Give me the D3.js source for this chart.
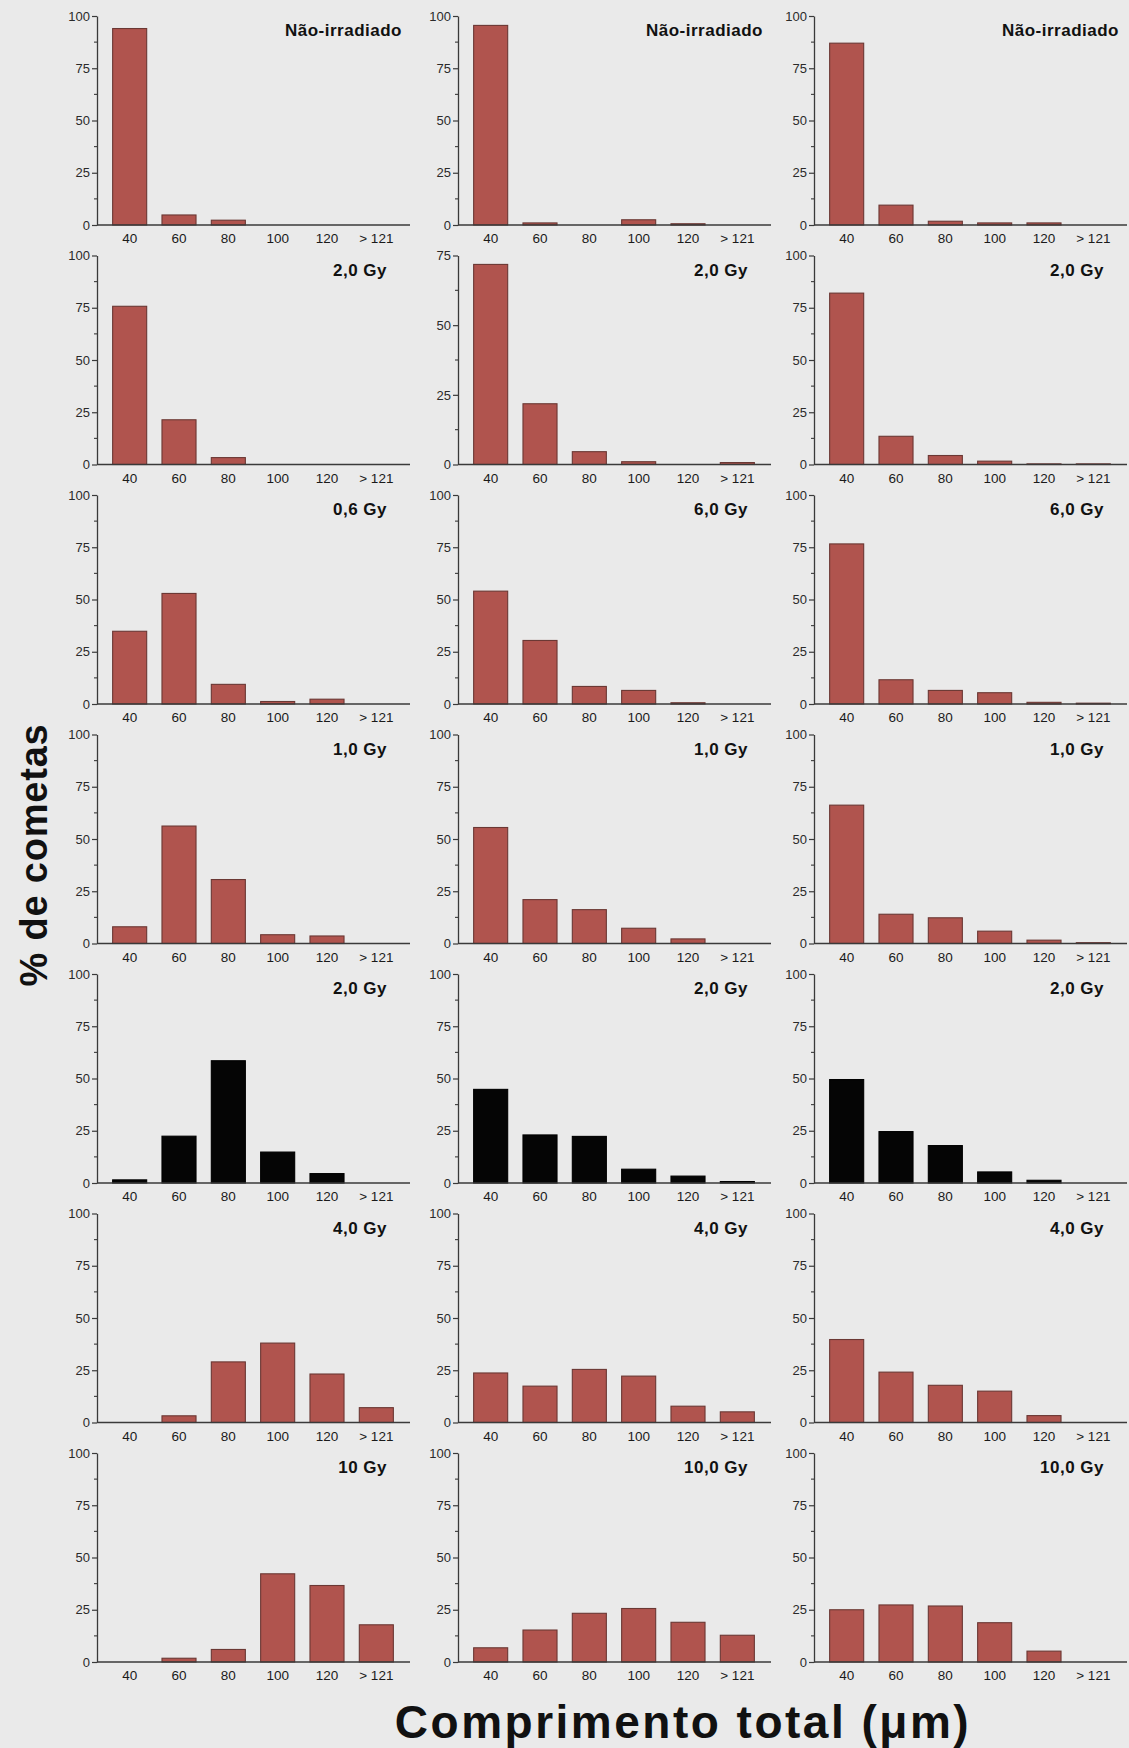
<!DOCTYPE html>
<html>
<head>
<meta charset="utf-8">
<script src="https://cdn.jsdelivr.net/npm/d3@7"></script>
<style>
  html, body { margin: 0; padding: 0; background: #eaeaea; }
  svg { display: block; font-family: "Liberation Sans", Arial, Helvetica, sans-serif; }
</style>
</head>
<body>
<svg id="chart" width="1129" height="1748"></svg>
<script>
// Comet length classes (µm)
const categories = ["40", "60", "80", "100", "120", "> 121"];

// Panel labels, one per row, for each column of panels
const titlesLeft   = ["Não-irradiado", "2,0 Gy", "0,6 Gy", "1,0 Gy", "2,0 Gy", "4,0 Gy", "10 Gy"];
const titlesMiddle = ["Não-irradiado", "2,0 Gy", "6,0 Gy", "1,0 Gy", "2,0 Gy", "4,0 Gy", "10,0 Gy"];
const titlesRight  = ["Não-irradiado", "2,0 Gy", "6,0 Gy", "1,0 Gy", "2,0 Gy", "4,0 Gy", "10,0 Gy"];

// % of comets per length class, one row per panel
const valuesLeft = [
  [94.0, 4.8, 2.3, 0, 0, 0],
  [75.7, 21.4, 3.3, 0, 0, 0],
  [34.8, 52.9, 9.4, 1.2, 2.3, 0],
  [8.0, 56.2, 30.6, 4.2, 3.6, 0],
  [1.5, 22.4, 58.5, 14.8, 4.5, 0],
  [0, 3.2, 29.0, 38.0, 23.2, 7.1],
  [0, 1.8, 6.0, 42.2, 36.6, 17.8]
];
const valuesMiddle = [
  [95.5, 1.0, 0, 2.5, 0.6, 0],
  [71.8, 21.8, 4.6, 1.0, 0, 0.7],
  [54.0, 30.4, 8.4, 6.5, 0.6, 0],
  [55.5, 21.0, 16.2, 7.3, 2.2, 0],
  [44.8, 23.0, 22.3, 6.6, 3.3, 0.7],
  [23.7, 17.4, 25.4, 22.2, 7.8, 5.1],
  [6.8, 15.3, 23.3, 25.6, 19.0, 12.8]
];
const valuesRight = [
  [87.0, 9.5, 1.8, 1.0, 1.0, 0],
  [82.0, 13.5, 4.3, 1.6, 0.3, 0.3],
  [76.6, 11.6, 6.5, 5.4, 0.8, 0.4],
  [66.2, 14.0, 12.3, 5.9, 1.6, 0.4],
  [49.5, 24.6, 17.9, 5.3, 1.3, 0],
  [39.7, 24.1, 17.8, 15.0, 3.3, 0],
  [25.0, 27.3, 26.8, 18.8, 5.2, 0]
];

// Upper limit of each panel's y axis
const yMaxLeft   = [100, 100, 100, 100, 100, 100, 100];
const yMaxMiddle = [100, 75, 100, 100, 100, 100, 100];
const yMaxRight  = [100, 100, 100, 100, 100, 100, 100];

// Y ticks
const majorTicks = [0, 25, 50, 75, 100];
const minorTicks = [12.5, 37.5, 62.5, 87.5];

const columns = [
  { titles: titlesLeft,   values: valuesLeft,   yMax: yMaxLeft },
  { titles: titlesMiddle, values: valuesMiddle, yMax: yMaxMiddle },
  { titles: titlesRight,  values: valuesRight,  yMax: yMaxRight }
];

// ---- layout ----
const axisX = [97, 458, 814];      // y-axis position of each column
const firstZero = 225;             // baseline of the top row
const rowStep = 239.5;             // vertical distance between rows
const plotH = 209;                 // height of the y axis
const bandOffset = 8, bandWidth = 296, lineLength = 313;

const barFill = "#b0544e", barStroke = "#6b3834";
const darkRow = 4;                 // the row drawn with solid black bars

const svg = d3.select("#chart");

columns.forEach((col, c) => {
  col.values.forEach((vals, r) => {
    const x0 = axisX[c];
    const zeroY = firstZero + r * rowStep;
    const g = svg.append("g");

    const x = d3.scaleBand()
      .domain(categories)
      .range([x0 + bandOffset, x0 + bandOffset + bandWidth])
      .paddingInner(0.31)
      .paddingOuter(0.155);

    const yMax = col.yMax[r];
    const y = d3.scaleLinear().domain([0, yMax]).range([zeroY, zeroY - plotH]);

    // bars
    const dark = r === darkRow;
    g.selectAll("rect.bar")
      .data(categories.map((k, i) => ({ k, v: vals[i] })))
      .join("rect")
      .attr("class", "bar")
      .attr("x", d => x(d.k))
      .attr("width", x.bandwidth())
      .attr("y", d => y(d.v))
      .attr("height", d => zeroY - y(d.v))
      .attr("fill", dark ? "#050505" : barFill)
      .attr("stroke", d => d.v > 0 ? (dark ? "#000" : barStroke) : "none")
      .attr("stroke-width", 1.1);

    // x axis: baseline plus class labels
    g.append("line")
      .attr("x1", x0).attr("x2", x0 + lineLength)
      .attr("y1", zeroY).attr("y2", zeroY)
      .attr("stroke", "#3a3a3a").attr("stroke-width", 1.3);

    g.selectAll("text.xl")
      .data(categories)
      .join("text")
      .attr("class", "xl")
      .attr("x", d => x(d) + x.bandwidth() / 2)
      .attr("y", zeroY + 18)
      .attr("text-anchor", "middle")
      .attr("font-size", 13.5)
      .attr("fill", "#1a1a1a")
      .text(d => d);

    // y axis
    const yAxis = d3.axisLeft(y)
      .tickValues(majorTicks.filter(t => t <= yMax))
      .tickSize(5)
      .tickSizeOuter(0)
      .tickPadding(2)
      .tickFormat(d3.format("d"));
    const ya = g.append("g")
      .attr("transform", `translate(${x0},0)`)
      .call(yAxis);
    ya.select(".domain").attr("stroke", "#3a3a3a").attr("stroke-width", 1.3);
    ya.selectAll(".tick line").attr("stroke", "#3a3a3a").attr("stroke-width", 1.2);
    ya.selectAll(".tick text")
      .attr("font-size", 13)
      .attr("fill", "#2a2a2a")
      .attr("font-family", "\"Liberation Sans\", Arial, sans-serif");

    g.selectAll("line.minor")
      .data(minorTicks.filter(t => t < yMax))
      .join("line")
      .attr("class", "minor")
      .attr("x1", x0 - 3).attr("x2", x0)
      .attr("y1", d => y(d)).attr("y2", d => y(d))
      .attr("stroke", "#3a3a3a").attr("stroke-width", 1.1);

    // panel label
    g.append("text")
      .attr("x", x0 + (r === 0 ? 305 : 290))
      .attr("y", zeroY - 189)
      .attr("text-anchor", "end")
      .attr("font-size", 17)
      .attr("font-weight", "bold")
      .attr("letter-spacing", 0.5)
      .attr("fill", "#111")
      .text(col.titles[r]);
  });
});

// axis titles
svg.append("text")
  .attr("transform", "translate(47,855) rotate(-90)")
  .attr("text-anchor", "middle")
  .attr("font-size", 38)
  .attr("font-weight", "bold")
  .attr("letter-spacing", 0.8)
  .attr("fill", "#111")
  .text("% de cometas");

svg.append("text")
  .attr("x", 683)
  .attr("y", 1738)
  .attr("text-anchor", "middle")
  .attr("font-size", 46)
  .attr("font-weight", "bold")
  .attr("letter-spacing", 2.5)
  .attr("fill", "#111")
  .text("Comprimento total (\u03bcm)");
</script>
</body>
</html>
